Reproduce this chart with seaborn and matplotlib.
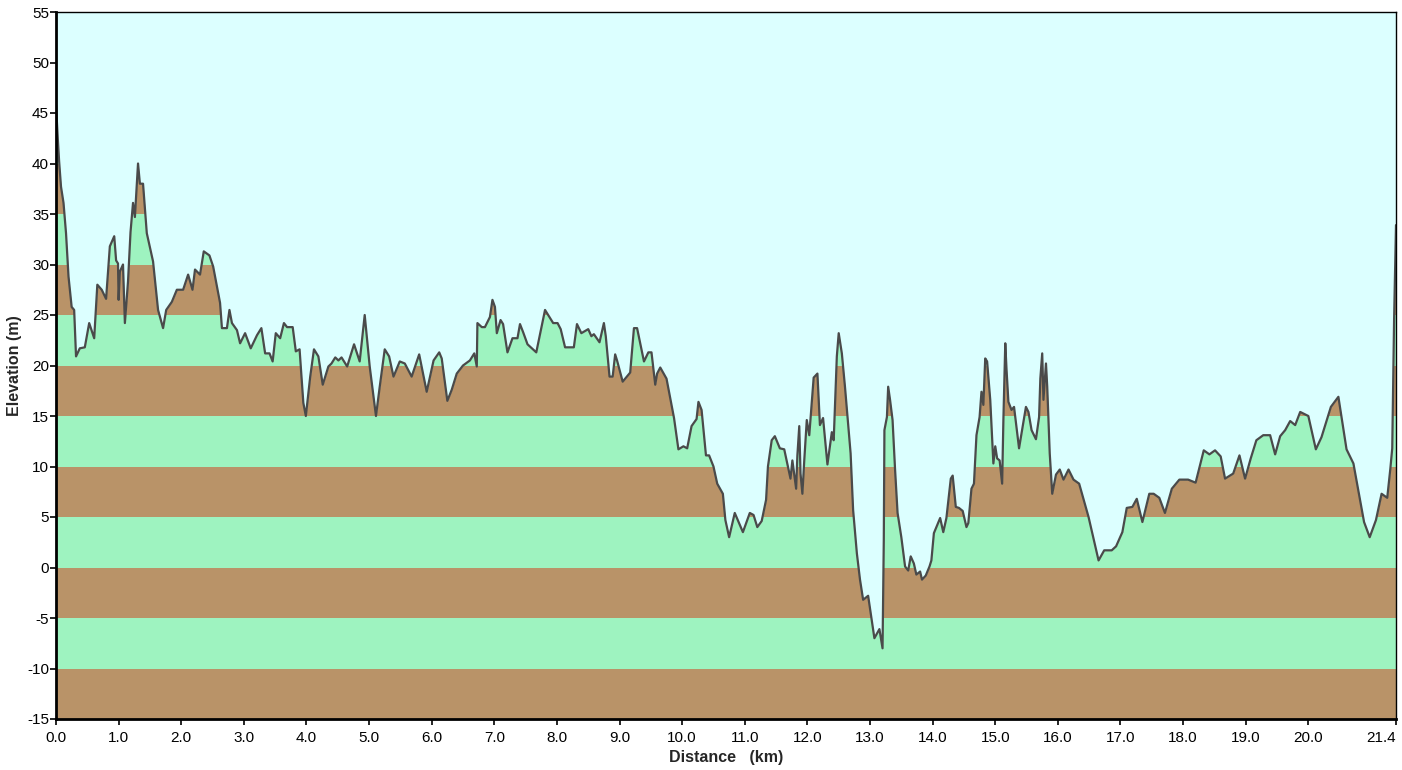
import numpy as np
import pandas as pd
import matplotlib.pyplot as plt
import seaborn as sns

# distance (km) and elevation (m)
dist = [0.00, 0.03, 0.05, 0.08, 0.12, 0.16, 0.20, 0.25, 0.29, 0.32, 0.38, 0.46, 0.53, 0.61,
        0.66, 0.73, 0.80, 0.86, 0.93, 0.96, 0.99, 1.00, 1.02, 1.07, 1.10, 1.15, 1.19, 1.23,
        1.26, 1.31, 1.34, 1.39, 1.45, 1.55, 1.63, 1.71, 1.76, 1.85, 1.93, 2.03, 2.11, 2.18,
        2.22, 2.30, 2.36, 2.45, 2.51, 2.62, 2.65, 2.73, 2.77, 2.81, 2.89, 2.94, 3.02, 3.11,
        3.21, 3.28, 3.34, 3.41, 3.46, 3.51, 3.58, 3.64, 3.69, 3.78, 3.83, 3.89, 3.95, 3.99,
        4.06, 4.12, 4.19, 4.26, 4.35, 4.40, 4.46, 4.51, 4.56, 4.65, 4.76, 4.85, 4.93, 5.01,
        5.11, 5.17, 5.25, 5.32, 5.39, 5.49, 5.57, 5.68, 5.80, 5.92, 6.03, 6.12, 6.16, 6.25,
        6.32, 6.40, 6.50, 6.61, 6.68, 6.72, 6.73, 6.80, 6.85, 6.93, 6.97, 7.01, 7.04, 7.10,
        7.14, 7.21, 7.29, 7.37, 7.41, 7.46, 7.53, 7.67, 7.81, 7.94, 8.01, 8.06, 8.13, 8.27,
        8.32, 8.39, 8.50, 8.55, 8.59, 8.68, 8.75, 8.78, 8.84, 8.89, 8.93, 8.96, 9.05, 9.17,
        9.23, 9.28, 9.39, 9.46, 9.51, 9.57, 9.60, 9.65, 9.75, 9.82, 9.87, 9.94, 10.02, 10.08,
        10.15, 10.23, 10.26, 10.31, 10.38, 10.43, 10.50, 10.56, 10.65, 10.69, 10.75, 10.84,
        10.97, 11.08, 11.14, 11.20, 11.27, 11.34, 11.37, 11.43, 11.48, 11.56, 11.63, 11.73,
        11.76, 11.82, 11.84, 11.87, 11.89, 11.92, 11.95, 11.99, 12.03, 12.10, 12.16, 12.20,
        12.25, 12.32, 12.39, 12.42, 12.47, 12.50, 12.55, 12.60, 12.69, 12.73, 12.79, 12.84,
        12.89, 12.97, 13.07, 13.15, 13.20, 13.22, 13.23, 13.27, 13.29, 13.32, 13.36, 13.40,
        13.44, 13.50, 13.56, 13.61, 13.65, 13.70, 13.74, 13.80, 13.83, 13.89, 13.95, 13.98,
        14.02, 14.12, 14.17, 14.22, 14.29, 14.32, 14.37, 14.42, 14.48, 14.54, 14.57, 14.62,
        14.66, 14.70, 14.75, 14.78, 14.81, 14.84, 14.87, 14.92, 14.97, 15.00, 15.03, 15.07,
        15.11, 15.13, 15.16, 15.18, 15.21, 15.26, 15.30, 15.38, 15.49, 15.53, 15.58, 15.65,
        15.70, 15.72, 15.75, 15.77, 15.81, 15.83, 15.87, 15.91, 15.97, 16.03, 16.09, 16.17,
        16.25, 16.34, 16.49, 16.65, 16.74, 16.86, 16.93, 17.03, 17.10, 17.19, 17.26, 17.35,
        17.46, 17.53, 17.62, 17.71, 17.82, 17.94, 18.08, 18.20, 18.33, 18.42, 18.51, 18.60,
        18.67, 18.80, 18.90, 18.99, 19.08, 19.17, 19.28, 19.39, 19.47, 19.55, 19.63, 19.71,
        19.79, 19.87, 20.00, 20.12, 20.21, 20.36, 20.48, 20.61, 20.72, 20.89, 20.98, 21.08,
        21.17, 21.26, 21.31, 21.34, 21.37, 21.40]
elev = [45.8, 42.3, 40.2, 37.7, 36.1, 33.1, 28.8, 25.8, 25.5, 20.9, 21.7, 21.8, 24.2, 22.7,
        28.0, 27.5, 26.6, 31.8, 32.8, 30.4, 30.1, 26.5, 29.3, 30.0, 24.2, 28.3, 33.2, 36.1,
        34.7, 40.0, 38.0, 38.0, 33.1, 30.3, 25.5, 23.7, 25.5, 26.3, 27.5, 27.5, 29.0, 27.5,
        29.5, 29.0, 31.3, 30.9, 29.8, 26.2, 23.7, 23.7, 25.5, 24.2, 23.5, 22.2, 23.2, 21.7,
        23.0, 23.7, 21.2, 21.2, 20.4, 23.2, 22.7, 24.2, 23.8, 23.8, 21.4, 21.6, 16.3, 15.0,
        18.9, 21.6, 20.9, 18.1, 19.9, 20.2, 20.8, 20.5, 20.8, 19.9, 22.1, 20.4, 25.0, 19.9,
        15.0, 17.9, 21.6, 20.9, 18.9, 20.4, 20.2, 18.9, 21.1, 17.4, 20.5, 21.3, 20.7, 16.5,
        17.6, 19.2, 20.0, 20.5, 21.2, 19.9, 24.2, 23.8, 23.8, 24.8, 26.5, 25.8, 23.2, 24.5,
        24.1, 21.3, 22.7, 22.7, 24.1, 23.3, 22.1, 21.3, 25.5, 24.2, 24.2, 23.6, 21.8, 21.8,
        24.1, 23.2, 23.6, 22.9, 23.1, 22.3, 24.2, 22.9, 18.9, 18.9, 21.1, 20.5, 18.4, 19.3,
        23.7, 23.7, 20.4, 21.3, 21.3, 18.1, 19.2, 19.8, 18.7, 16.4, 14.8, 11.7, 12.0, 11.8,
        14.0, 14.7, 16.4, 15.6, 11.1, 11.1, 10.0, 8.3, 7.3, 4.7, 3.0, 5.4,
        3.5, 5.4, 5.2, 4.0, 4.6, 6.7, 10.0, 12.6, 13.0, 11.8, 11.7, 8.8,
        10.6, 7.8, 11.1, 14.0, 9.3, 7.3, 10.6, 14.6, 13.1, 18.8, 19.2, 14.1,
        14.8, 10.2, 13.4, 12.6, 20.9, 23.2, 21.2, 17.9, 11.3, 5.7, 1.4, -1.2,
        -3.2, -2.8, -7.0, -6.1, -8.0, 2.7, 13.6, 14.9, 17.9, 16.6, 14.6, 9.7,
        5.4, 3.0, 0.1, -0.3, 1.1, 0.4, -0.7, -0.4, -1.2, -0.8, 0.1, 0.7,
        3.4, 4.9, 3.5, 4.9, 8.8, 9.1, 6.0, 5.9, 5.6, 4.0, 4.4, 7.8,
        8.3, 13.1, 14.9, 17.4, 16.1, 20.7, 20.4, 16.6, 10.3, 12.0, 10.8, 10.6,
        8.3, 14.6, 22.2, 19.6, 16.4, 15.6, 15.9, 11.8, 15.9, 15.4, 13.6, 12.7,
        14.9, 18.7, 21.2, 16.6, 20.2, 17.9, 11.3, 7.3, 9.2, 9.7, 8.7, 9.7,
        8.7, 8.3, 5.0, 0.7, 1.7, 1.7, 2.1, 3.5, 5.9, 6.0, 6.8, 4.5,
        7.3, 7.3, 6.9, 5.4, 7.8, 8.7, 8.7, 8.4, 11.6, 11.2, 11.6, 11.0,
        8.8, 9.3, 11.1, 8.8, 10.8, 12.6, 13.1, 13.1, 11.2, 13.0, 13.6, 14.5,
        14.1, 15.4, 15.0, 11.7, 12.9, 15.9, 16.9, 11.7, 10.3, 4.5, 3.0, 4.7,
        7.3, 6.9, 9.8, 11.8, 24.7, 33.9]

xticks = [0, 1, 2, 3, 4, 5, 6, 7, 8, 9, 10, 11, 12, 13, 14, 15, 16, 17, 18, 19, 20, 21.4]
yticks = list(range(-15, 60, 5))

df = pd.DataFrame({"Distance": dist, "Elevation": elev})

sns.set_style("ticks")
plt.rcParams['font.family'] = ['Liberation Sans', 'DejaVu Sans']
plt.rcParams['axes.unicode_minus'] = False

fig = plt.figure(figsize=(14.02, 7.70), dpi=100)
ax = fig.add_axes([56 / 1402, 1 - 719 / 770, 1340 / 1402, 707 / 770])

# 5 m bands, brown / green alternating
for lo in range(-15, 55, 5):
    col = "#b99368" if (lo // 5) % 2 else "#9ef3c0"
    ax.axhspan(lo, lo + 5, color=col, lw=0, zorder=0)

# sky above the profile
ax.fill_between(df["Distance"], df["Elevation"], 55, color="#dcffff", lw=0, zorder=1)

sns.lineplot(data=df, x="Distance", y="Elevation", ax=ax, color="#4a4a4a",
             lw=1.6, estimator=None, sort=False, zorder=2)

ax.set_xlim(0, 21.4)
ax.set_ylim(-15, 55)
ax.set_xticks(xticks)
ax.set_xticklabels([f"{t:.1f}" for t in xticks])
ax.set_yticks(yticks)
ax.tick_params(labelsize=11, length=4, width=1.2, colors="black")
ax.tick_params(axis="y", pad=1)
ax.tick_params(axis="x", pad=5)
ax.get_xticklabels()[-1].set_horizontalalignment("right")
ax.get_xticklabels()[-1].set_x(21.4)

for s in ["left", "bottom"]:
    ax.spines[s].set_linewidth(2)
for s in ["top", "right"]:
    ax.spines[s].set_linewidth(1)
    ax.spines[s].set_visible(True)
for s in ax.spines.values():
    s.set_color("black")
    s.set_zorder(3)

ax.set_xlabel("Distance   (km)", fontsize=11.5, fontweight="bold")
ax.set_ylabel("Elevation (m)", fontsize=11.5, fontweight="bold")
ax.xaxis.set_label_coords(0.5, -0.044)
ax.yaxis.set_label_coords(-0.0254, 0.5)

plt.savefig("out.png", dpi=100)
